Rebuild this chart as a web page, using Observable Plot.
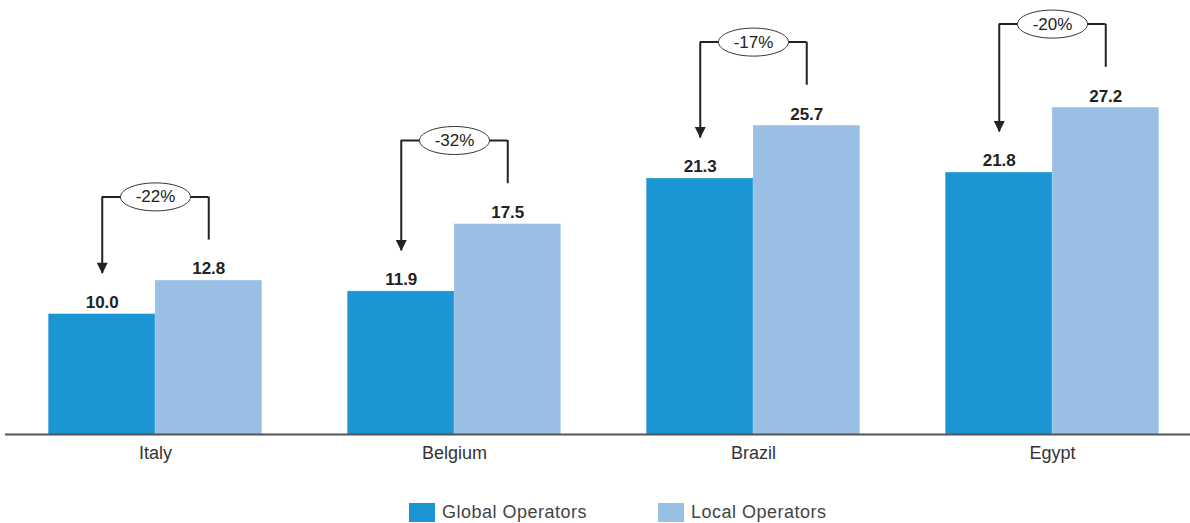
<!DOCTYPE html>
<html><head><meta charset="utf-8">
<script src="https://cdn.jsdelivr.net/npm/d3@7"></script>
<script src="https://cdn.jsdelivr.net/npm/@observablehq/plot@0.6"></script>
<style>
body{margin:0;background:#fff;font-family:"Liberation Sans",Arial,Helvetica,sans-serif;}
#wrap{position:relative;width:1190px;height:523px;}
#legend{position:relative;height:48px;}
.item{position:absolute;top:27px;display:flex;align-items:center;font-size:18px;letter-spacing:0.5px;color:#444;}
.sw{width:26px;height:19px;margin-right:7px;}
</style></head><body><div id="wrap"><div id="chart"></div><div id="legend"></div></div>
<script>
const countries = ["Italy", "Belgium", "Brazil", "Egypt"];
const globalOperators = [10.0, 11.9, 21.3, 21.8];
const localOperators = [12.8, 17.5, 25.7, 27.2];
const gapLabels = ["-22%", "-32%", "-17%", "-20%"];
const seriesNames = ["Global Operators", "Local Operators"];
const seriesColors = ["#1b95d3", "#99bfe5"];

const data = countries.map((c, i) => ({
  country: c,
  global: globalOperators[i],
  local: localOperators[i],
  gap: gapLabels[i]
}));

const half = 53.25;        // half band: offset of each bar from group centre
const levelGap = 7;        // connector level above the local bar (in value units)
const endGap = 3.4;        // connector end above bars (in value units)

const ellipse = {
  draw(ctx) {
    const rx = 35, ry = 14, k = 0.5523;
    ctx.moveTo(rx, 0);
    ctx.bezierCurveTo(rx, ry * k, rx * k, ry, 0, ry);
    ctx.bezierCurveTo(-rx * k, ry, -rx, ry * k, -rx, 0);
    ctx.bezierCurveTo(-rx, -ry * k, -rx * k, -ry, 0, -ry);
    ctx.bezierCurveTo(rx * k, -ry, rx, -ry * k, rx, 0);
    ctx.closePath();
  }
};
const arrowHead = {
  draw(ctx) {
    ctx.moveTo(-5.5, -11);
    ctx.lineTo(5.5, -11);
    ctx.lineTo(0, 0);
    ctx.closePath();
  }
};

const fmt = d => d.toFixed(1);
const ink = "#222";

const chart = Plot.plot({
  width: 1190,
  height: 475,
  marginLeft: 5,
  marginRight: 0,
  marginTop: 2,
  marginBottom: 41,
  style: {fontFamily: "'Liberation Sans', Arial, Helvetica, sans-serif", background: "#fff"},
  x: {domain: countries, paddingInner: 0.6442, paddingOuter: 0.3015, align: 0.536, label: null},
  y: {domain: [0, 36], axis: null},
  marks: [
    Plot.barY(data, {x: "country", y: "global", fill: seriesColors[0], stroke: seriesColors[0], strokeWidth: 0.6, dx: -half}),
    Plot.barY(data, {x: "country", y: "local", fill: seriesColors[1], stroke: seriesColors[1], strokeWidth: 0.6, dx: half}),
    Plot.ruleY([0], {stroke: "#555", strokeWidth: 2}),
    Plot.axisX({tickSize: 0, tickPadding: 12, fontSize: 18, fill: "#333", label: null, style: {letterSpacing: "0.6px"}}),
    Plot.text(data, {x: "country", y: "global", text: d => fmt(d.global), dx: -half, dy: -12, fontSize: 17, fontWeight: "bold", fill: ink}),
    Plot.text(data, {x: "country", y: "local", text: d => fmt(d.local), dx: half, dy: -12, fontSize: 17, fontWeight: "bold", fill: ink}),
    // connector: right vertical (from local bar up), horizontal, left vertical (down to global bar)
    Plot.ruleX(data, {x: "country", y1: d => d.local + endGap, y2: d => d.local + levelGap, dx: half, stroke: ink, strokeWidth: 2}),
    Plot.tickY(data, {x: "country", y: d => d.local + levelGap, stroke: ink, strokeWidth: 2}),
    Plot.ruleX(data, {x: "country", y1: d => d.local + levelGap, y2: d => d.global + endGap, dx: -half, stroke: ink, strokeWidth: 2}),
    Plot.dot(data, {x: "country", y: d => d.global + endGap, dx: -half, symbol: arrowHead, fill: ink, stroke: "none", r: 5}),
    Plot.dot(data, {x: "country", y: d => d.local + levelGap, symbol: ellipse, fill: "white", stroke: "#333", strokeWidth: 1, r: 20}),
    Plot.text(data, {x: "country", y: d => d.local + levelGap, text: "gap", fontSize: 17, fill: ink, style: {letterSpacing: "0.5px"}})
  ]
});
document.getElementById("chart").appendChild(chart);

const legend = document.getElementById("legend");
const lefts = [409, 658];
seriesNames.forEach((name, i) => {
  const it = document.createElement("div");
  it.className = "item";
  it.style.left = lefts[i] + "px";
  it.innerHTML = `<span class="sw" style="background:${seriesColors[i]}"></span><span>${name}</span>`;
  legend.appendChild(it);
});
</script></body></html>
